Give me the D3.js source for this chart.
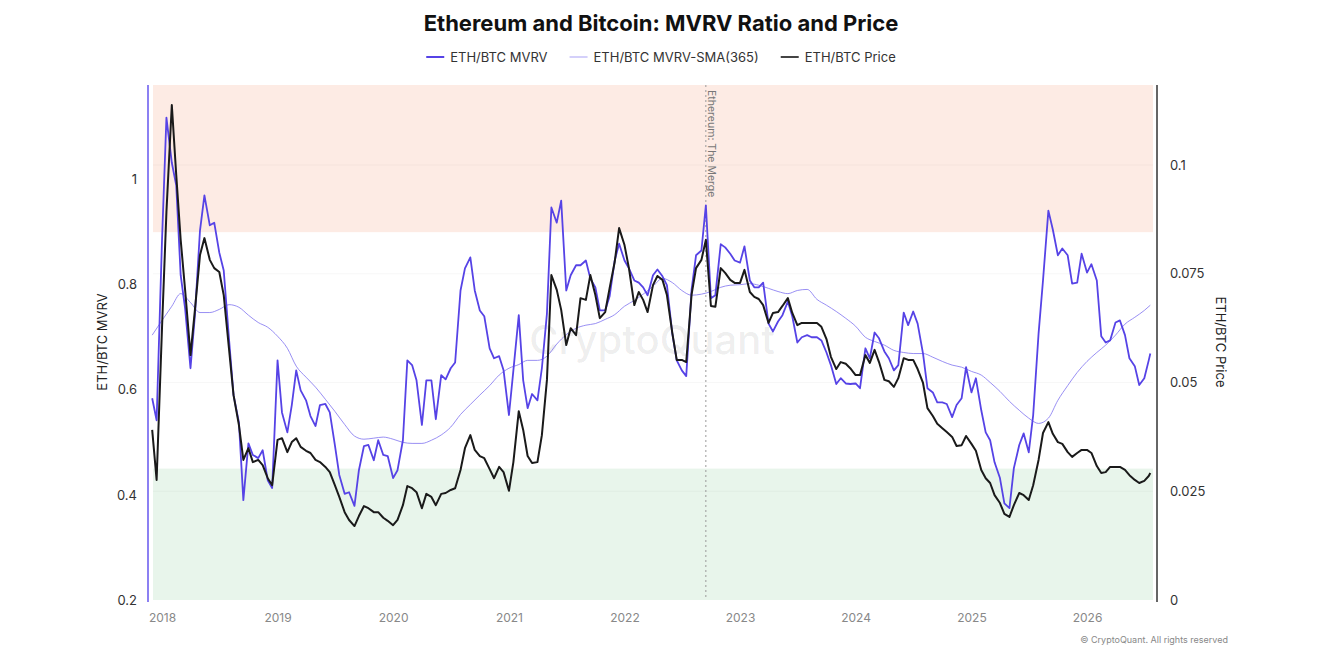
<!DOCTYPE html>
<html>
<head>
<meta charset="utf-8">
<script src="https://cdn.jsdelivr.net/npm/d3@7"></script>
<style>
body { margin: 0; background: #fff; font-family: Inter, "Helvetica Neue", Arial, sans-serif; }
</style>
</head>
<body>
<script>
// semi-monthly sample dates
var dates = [
  "2017-12-01","2017-12-15",
  "2018-01-01","2018-01-15","2018-02-01","2018-02-15","2018-03-01","2018-03-15","2018-04-01","2018-04-15","2018-05-01","2018-05-15","2018-06-01","2018-06-15","2018-07-01","2018-07-15","2018-08-01","2018-08-15","2018-09-01","2018-09-15","2018-10-01","2018-10-15","2018-11-01","2018-11-15","2018-12-01","2018-12-15",
  "2019-01-01","2019-01-15","2019-02-01","2019-02-15","2019-03-01","2019-03-15","2019-04-01","2019-04-15","2019-05-01","2019-05-15","2019-06-01","2019-06-15","2019-07-01","2019-07-15","2019-08-01","2019-08-15","2019-09-01","2019-09-15","2019-10-01","2019-10-15","2019-11-01","2019-11-15","2019-12-01","2019-12-15",
  "2020-01-01","2020-01-15","2020-02-01","2020-02-15","2020-03-01","2020-03-15","2020-04-01","2020-04-15","2020-05-01","2020-05-15","2020-06-01","2020-06-15","2020-07-01","2020-07-15","2020-08-01","2020-08-15","2020-09-01","2020-09-15","2020-10-01","2020-10-15","2020-11-01","2020-11-15","2020-12-01","2020-12-15",
  "2021-01-01","2021-01-15","2021-02-01","2021-02-15","2021-03-01","2021-03-15","2021-04-01","2021-04-15","2021-05-01","2021-05-15","2021-06-01","2021-06-15","2021-07-01","2021-07-15","2021-08-01","2021-08-15","2021-09-01","2021-09-15","2021-10-01","2021-10-15","2021-11-01","2021-11-15","2021-12-01","2021-12-15",
  "2022-01-01","2022-01-15","2022-02-01","2022-02-15","2022-03-01","2022-03-15","2022-04-01","2022-04-15","2022-05-01","2022-05-15","2022-06-01","2022-06-15","2022-07-01","2022-07-15","2022-08-01","2022-08-15","2022-09-01","2022-09-15","2022-10-01","2022-10-15","2022-11-01","2022-11-15","2022-12-01","2022-12-15",
  "2023-01-01","2023-01-15","2023-02-01","2023-02-15","2023-03-01","2023-03-15","2023-04-01","2023-04-15","2023-05-01","2023-05-15","2023-06-01","2023-06-15","2023-07-01","2023-07-15","2023-08-01","2023-08-15","2023-09-01","2023-09-15","2023-10-01","2023-10-15","2023-11-01","2023-11-15","2023-12-01","2023-12-15",
  "2024-01-01","2024-01-15","2024-02-01","2024-02-15","2024-03-01","2024-03-15","2024-04-01","2024-04-15","2024-05-01","2024-05-15","2024-06-01","2024-06-15","2024-07-01","2024-07-15","2024-08-01","2024-08-15","2024-09-01","2024-09-15","2024-10-01","2024-10-15","2024-11-01","2024-11-15","2024-12-01","2024-12-15",
  "2025-01-01","2025-01-15","2025-02-01","2025-02-15","2025-03-01","2025-03-15","2025-04-01","2025-04-15","2025-05-01","2025-05-15","2025-06-01","2025-06-15","2025-07-01","2025-07-15","2025-08-01","2025-08-15","2025-09-01","2025-09-15","2025-10-01","2025-10-15","2025-11-01","2025-11-15","2025-12-01","2025-12-15",
  "2026-01-01","2026-01-15","2026-02-01","2026-02-15","2026-03-01","2026-03-15","2026-04-01","2026-04-15","2026-05-01","2026-05-15","2026-06-01","2026-06-15","2026-07-01","2026-07-15","2026-07-20"
];

var mvrv = [
  0.584, 0.542,
  0.884, 1.118, 1.032, 0.989, 0.818, 0.755, 0.641, 0.742, 0.903, 0.970, 0.913, 0.918, 0.861, 0.827, 0.694, 0.590, 0.538, 0.390, 0.498, 0.476, 0.470, 0.485, 0.428, 0.413,
  0.656, 0.557, 0.519, 0.571, 0.637, 0.599, 0.580, 0.550, 0.531, 0.571, 0.573, 0.557, 0.495, 0.438, 0.402, 0.405, 0.379, 0.447, 0.493, 0.495, 0.466, 0.504, 0.476, 0.474,
  0.432, 0.447, 0.504, 0.656, 0.647, 0.618, 0.533, 0.618, 0.618, 0.544, 0.628, 0.620, 0.641, 0.652, 0.789, 0.831, 0.852, 0.789, 0.751, 0.740, 0.679, 0.660, 0.664, 0.637,
  0.552, 0.637, 0.742, 0.618, 0.565, 0.592, 0.580, 0.641, 0.745, 0.947, 0.918, 0.960, 0.789, 0.818, 0.837, 0.837, 0.846, 0.812, 0.795, 0.751, 0.751, 0.778, 0.846, 0.878,
  0.846, 0.831, 0.808, 0.804, 0.795, 0.780, 0.818, 0.829, 0.816, 0.799, 0.707, 0.656, 0.637, 0.626, 0.791, 0.856, 0.865, 0.951, 0.774, 0.780, 0.877, 0.871, 0.859, 0.846,
  0.842, 0.873, 0.808, 0.795, 0.795, 0.804, 0.726, 0.711, 0.730, 0.742, 0.768, 0.740, 0.690, 0.700, 0.704, 0.700, 0.700, 0.694, 0.671, 0.647, 0.611, 0.622, 0.612, 0.611,
  0.612, 0.603, 0.679, 0.660, 0.709, 0.698, 0.673, 0.660, 0.637, 0.647, 0.747, 0.723, 0.749, 0.726, 0.669, 0.603, 0.595, 0.576, 0.576, 0.573, 0.548, 0.571, 0.584, 0.643,
  0.595, 0.622, 0.561, 0.519, 0.504, 0.462, 0.432, 0.384, 0.375, 0.451, 0.495, 0.517, 0.481, 0.552, 0.707, 0.808, 0.941, 0.905, 0.856, 0.869, 0.856, 0.802, 0.804, 0.859,
  0.823, 0.839, 0.808, 0.702, 0.690, 0.694, 0.728, 0.732, 0.704, 0.660, 0.645, 0.609, 0.622, 0.656, 0.669
];

var price = [
  0.0391, 0.0276,
  0.0625, 0.0892, 0.1138, 0.0977, 0.0828, 0.0713, 0.0563, 0.0667, 0.0793, 0.0832, 0.0782, 0.0763, 0.0754, 0.0701, 0.0575, 0.0471, 0.0402, 0.0322, 0.0349, 0.0317, 0.0322, 0.0310, 0.0280, 0.0264,
  0.0368, 0.0372, 0.0340, 0.0363, 0.0372, 0.0352, 0.0343, 0.0338, 0.0322, 0.0317, 0.0306, 0.0294, 0.0264, 0.0237, 0.0202, 0.0184, 0.0170, 0.0193, 0.0216, 0.0211, 0.0202, 0.0202, 0.0189, 0.0182,
  0.0172, 0.0184, 0.0218, 0.0262, 0.0257, 0.0248, 0.0211, 0.0244, 0.0237, 0.0218, 0.0244, 0.0246, 0.0253, 0.0257, 0.0299, 0.0349, 0.0379, 0.0345, 0.0331, 0.0326, 0.0301, 0.0280, 0.0306, 0.0294,
  0.0251, 0.0317, 0.0434, 0.0391, 0.0331, 0.0315, 0.0317, 0.0379, 0.0506, 0.0747, 0.0713, 0.0667, 0.0586, 0.0625, 0.0609, 0.0694, 0.0690, 0.0747, 0.0701, 0.0648, 0.0662, 0.0717, 0.0777, 0.0855,
  0.0816, 0.0763, 0.0678, 0.0708, 0.0690, 0.0662, 0.0724, 0.0745, 0.0736, 0.0701, 0.0614, 0.0552, 0.0552, 0.0547, 0.0703, 0.0763, 0.0782, 0.0828, 0.0676, 0.0674, 0.0763, 0.0752, 0.0736, 0.0729,
  0.0729, 0.0759, 0.0708, 0.0697, 0.0692, 0.0678, 0.0637, 0.0660, 0.0662, 0.0676, 0.0694, 0.0660, 0.0632, 0.0637, 0.0637, 0.0637, 0.0637, 0.0628, 0.0600, 0.0559, 0.0531, 0.0547, 0.0543, 0.0533,
  0.0517, 0.0517, 0.0563, 0.0545, 0.0575, 0.0547, 0.0506, 0.0503, 0.0490, 0.0510, 0.0556, 0.0552, 0.0552, 0.0531, 0.0499, 0.0441, 0.0423, 0.0405, 0.0395, 0.0386, 0.0375, 0.0354, 0.0356, 0.0377,
  0.0359, 0.0343, 0.0299, 0.0280, 0.0269, 0.0241, 0.0223, 0.0198, 0.0191, 0.0218, 0.0246, 0.0241, 0.0230, 0.0264, 0.0322, 0.0384, 0.0409, 0.0382, 0.0363, 0.0359, 0.0340, 0.0329, 0.0338, 0.0345,
  0.0345, 0.0338, 0.0308, 0.0292, 0.0294, 0.0306, 0.0306, 0.0306, 0.0299, 0.0287, 0.0276, 0.0269, 0.0274, 0.0285, 0.0292
];

// monthly points for the 365-day moving average
var smaDates = [
  "2017-12-01",
  "2018-01-01","2018-02-01","2018-03-01","2018-04-01","2018-05-01","2018-06-01","2018-07-01","2018-08-01","2018-09-01","2018-10-01","2018-11-01","2018-12-01",
  "2019-01-01","2019-02-01","2019-03-01","2019-04-01","2019-05-01","2019-06-01","2019-07-01","2019-08-01","2019-09-01","2019-10-01","2019-11-01","2019-12-01",
  "2020-01-01","2020-02-01","2020-03-01","2020-04-01","2020-05-01","2020-06-01","2020-07-01","2020-08-01","2020-09-01","2020-10-01","2020-11-01","2020-12-01",
  "2021-01-01","2021-02-01","2021-03-01","2021-04-01","2021-05-01","2021-06-01","2021-07-01","2021-08-01","2021-09-01","2021-10-01","2021-11-01","2021-12-01",
  "2022-01-01","2022-02-01","2022-03-01","2022-04-01","2022-05-01","2022-06-01","2022-07-01","2022-08-01","2022-09-01","2022-10-01","2022-11-01","2022-12-01",
  "2023-01-01","2023-02-01","2023-03-01","2023-04-01","2023-05-01","2023-06-01","2023-07-01","2023-08-01","2023-09-01","2023-10-01","2023-11-01","2023-12-01",
  "2024-01-01","2024-02-01","2024-03-01","2024-04-01","2024-05-01","2024-06-01","2024-07-01","2024-08-01","2024-09-01","2024-10-01","2024-11-01","2024-12-01",
  "2025-01-01","2025-02-01","2025-03-01","2025-04-01","2025-05-01","2025-06-01","2025-07-01","2025-08-01","2025-09-01","2025-10-01","2025-11-01","2025-12-01",
  "2026-01-01","2026-02-01","2026-03-01","2026-04-01","2026-05-01","2026-06-01","2026-07-01","2026-07-20"
];

var mvrvSma = [
  0.704,
  0.732, 0.759, 0.783, 0.766, 0.747, 0.747, 0.753, 0.762, 0.757, 0.742, 0.728, 0.719,
  0.702, 0.679, 0.645, 0.624, 0.605, 0.582, 0.559, 0.534, 0.512, 0.506, 0.508, 0.510,
  0.506, 0.500, 0.498, 0.498, 0.504, 0.514, 0.529, 0.553, 0.572, 0.590, 0.608, 0.628,
  0.641, 0.648, 0.656, 0.656, 0.664, 0.687, 0.705, 0.717, 0.723, 0.726, 0.734, 0.743,
  0.759, 0.770, 0.782, 0.797, 0.812, 0.804, 0.789, 0.780, 0.782, 0.787, 0.795, 0.799,
  0.800, 0.802, 0.799, 0.793, 0.787, 0.783, 0.789, 0.791, 0.772, 0.761, 0.749, 0.736,
  0.721, 0.700, 0.692, 0.685, 0.675, 0.671, 0.669, 0.669, 0.662, 0.654, 0.647, 0.643,
  0.635, 0.628, 0.614, 0.597, 0.578, 0.561, 0.546, 0.536, 0.546, 0.580, 0.608, 0.633,
  0.654, 0.671, 0.685, 0.704, 0.725, 0.738, 0.751, 0.761
];

var leftTicks = [0.2, 0.4, 0.6, 0.8, 1];
var rightTicks = [0, 0.025, 0.05, 0.075, 0.1];
var yearLabels = ["2018","2019","2020","2021","2022","2023","2024","2025","2026"];
var zones = [[0.9, 1.18], [0.2, 0.45]];
var mergeDate = "2022-09-15";

var svgWidth = 1342, svgHeight = 651;
var plotLeft = 153, plotRight = 1153, plotTop = 85, plotBottom = 600;
var purple = "#5643e6", black = "#1a1a1a", smaColor = "#7f72f0";

var parse = d3.utcParse("%Y-%m-%d");

var xScale = d3.scaleUtc()
    .domain([parse("2018-01-01"), parse("2026-01-01")])
    .range([162, 1087]);
var yLeft = d3.scaleLinear().domain([0.2, 1.18]).range([plotBottom, plotTop]);
var yRight = d3.scaleLinear().domain([0, 0.1184]).range([plotBottom, plotTop]);

var svg = d3.select("body").append("svg")
    .attr("width", svgWidth)
    .attr("height", svgHeight);

// title
svg.append("text")
    .attr("x", 661).attr("y", 31)
    .attr("text-anchor", "middle")
    .attr("font-size", 22).attr("font-weight", 700).attr("fill", "#111")
    .text("Ethereum and Bitcoin: MVRV Ratio and Price");

// legend
var legendItems = [
  {label: "ETH/BTC MVRV", color: purple, w: 2},
  {label: "ETH/BTC MVRV-SMA(365)", color: "#b7b0f6", w: 1.2},
  {label: "ETH/BTC Price", color: "#444", w: 2}
];
var legend = svg.append("g");
var lx = 0;
legendItems.forEach(function(it){
  var g = legend.append("g").attr("transform", "translate(" + lx + ",0)");
  g.append("line").attr("x1", 0).attr("x2", 18).attr("y1", 0).attr("y2", 0)
    .attr("stroke", it.color).attr("stroke-width", it.w);
  var t = g.append("text").attr("x", 24).attr("y", 4.5)
    .attr("font-size", 13).attr("fill", "#333").text(it.label);
  lx += 24 + t.node().getComputedTextLength() + 22;
});
lx -= 22;
legend.attr("transform", "translate(" + (661 - lx / 2) + ",57)");

// zones
svg.selectAll("rect.zone")
  .data(zones)
  .enter().append("rect")
  .attr("class", "zone")
  .attr("x", plotLeft)
  .attr("width", plotRight - plotLeft)
  .attr("y", function(d){ return yLeft(d[1]); })
  .attr("height", function(d){ return yLeft(d[0]) - yLeft(d[1]); })
  .attr("fill", function(d, i){ return i === 0 ? "#fdebe4" : "#e8f5eb"; });

// faint grid
svg.selectAll("line.hgrid")
  .data(rightTicks.slice(1))
  .enter().append("line")
  .attr("x1", plotLeft).attr("x2", plotRight)
  .attr("y1", function(d){ return yRight(d); })
  .attr("y2", function(d){ return yRight(d); })
  .attr("stroke", "#000").attr("stroke-opacity", 0.035);

// watermark
svg.append("text")
    .attr("x", 652).attr("y", 354)
    .attr("text-anchor", "middle")
    .attr("font-size", 40).attr("font-weight", 500)
    .attr("fill", "#000").attr("fill-opacity", 0.08)
    .text("CryptoQuant");

// merge marker
var mx = xScale(parse(mergeDate));
svg.append("line")
    .attr("x1", mx).attr("x2", mx)
    .attr("y1", plotTop).attr("y2", plotBottom)
    .attr("stroke", "#999").attr("stroke-width", 1)
    .attr("stroke-dasharray", "2,3");
svg.append("text")
    .attr("transform", "translate(" + (mx + 2) + "," + (plotTop + 5) + ") rotate(90)")
    .attr("font-size", 10.5).attr("fill", "#777")
    .text("Ethereum: The Merge");

// series
var mainData = dates.map(function(d, i){ return {date: parse(d), mvrv: mvrv[i], price: price[i]}; });
var smaData = smaDates.map(function(d, i){ return {date: parse(d), v: mvrvSma[i]}; });

svg.append("path")
    .datum(smaData)
    .attr("fill", "none")
    .attr("stroke", smaColor).attr("stroke-width", 0.8)
    .attr("d", d3.line().curve(d3.curveMonotoneX)
      .x(function(d){ return xScale(d.date); })
      .y(function(d){ return yLeft(d.v); }));

svg.append("path")
    .datum(mainData)
    .attr("fill", "none")
    .attr("stroke", purple).attr("stroke-width", 1.8)
    .attr("stroke-linejoin", "round")
    .attr("d", d3.line()
      .x(function(d){ return xScale(d.date); })
      .y(function(d){ return yLeft(d.mvrv); }));

svg.append("path")
    .datum(mainData)
    .attr("fill", "none")
    .attr("stroke", black).attr("stroke-width", 2)
    .attr("stroke-linejoin", "round")
    .attr("d", d3.line()
      .x(function(d){ return xScale(d.date); })
      .y(function(d){ return yRight(d.price); }));

// axes
var fmt = d3.format("~g");
var leftAxis = svg.append("g")
    .attr("transform", "translate(148,0)")
    .call(d3.axisLeft(yLeft).tickValues(leftTicks).tickFormat(fmt).tickSize(0).tickPadding(11));
leftAxis.select(".domain").remove();
leftAxis.selectAll("text").attr("font-size", 13).attr("fill", "#333").attr("font-family", "Inter, Arial, sans-serif");

var rightAxis = svg.append("g")
    .attr("transform", "translate(1157,0)")
    .call(d3.axisRight(yRight).tickValues(rightTicks).tickFormat(fmt).tickSize(0).tickPadding(13));
rightAxis.select(".domain").remove();
rightAxis.selectAll("text").attr("font-size", 13).attr("fill", "#333").attr("font-family", "Inter, Arial, sans-serif");

svg.append("line")
    .attr("x1", 148).attr("x2", 148).attr("y1", plotTop).attr("y2", plotBottom + 2)
    .attr("stroke", "#8c80f2").attr("stroke-width", 2);
svg.append("line")
    .attr("x1", 1157).attr("x2", 1157).attr("y1", plotTop).attr("y2", plotBottom + 2)
    .attr("stroke", "#666").attr("stroke-width", 2);

var xAxis = svg.append("g")
    .attr("transform", "translate(0," + plotBottom + ")")
    .call(d3.axisBottom(xScale)
      .tickValues(yearLabels.map(function(y){ return parse(y + "-01-01"); }))
      .tickFormat(d3.utcFormat("%Y"))
      .tickSize(0).tickPadding(13));
xAxis.select(".domain").remove();
xAxis.selectAll("text").attr("font-size", 12).attr("fill", "#888").attr("font-family", "Inter, Arial, sans-serif");

// axis titles
svg.append("text")
    .attr("transform", "translate(107,342) rotate(-90)")
    .attr("text-anchor", "middle")
    .attr("font-size", 13).attr("fill", "#222")
    .text("ETH/BTC MVRV");
svg.append("text")
    .attr("transform", "translate(1216,342) rotate(90)")
    .attr("text-anchor", "middle")
    .attr("font-size", 13).attr("fill", "#222")
    .text("ETH/BTC Price");

// footer
svg.append("text")
    .attr("x", 1228).attr("y", 643)
    .attr("text-anchor", "end")
    .attr("font-size", 9).attr("fill", "#888")
    .text("© CryptoQuant. All rights reserved");
</script>
</body>
</html>
